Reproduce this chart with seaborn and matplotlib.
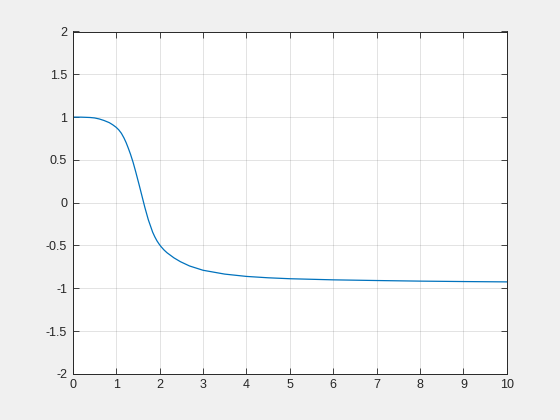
import numpy as np
import pandas as pd
import seaborn as sns
import matplotlib
matplotlib.use('Agg')
import matplotlib.pyplot as plt

# values
x_vals = [0.0, 0.2, 0.4, 0.5, 0.61, 0.72, 0.84, 0.92, 1.0, 1.06, 1.12, 1.18,
          1.23, 1.28, 1.33, 1.39, 1.45, 1.53, 1.60, 1.66, 1.74, 1.84, 1.89,
          1.94, 1.99, 2.03, 2.10, 2.17, 2.33, 2.48, 2.69, 3.0, 3.5, 4.0, 4.5,
          5.0, 6.0, 7.0, 8.0, 9.0, 10.0]
y_vals = [1.0, 0.999, 0.995, 0.99, 0.978, 0.96, 0.935, 0.91, 0.88, 0.85,
          0.81, 0.755, 0.70, 0.635, 0.565, 0.47, 0.36, 0.205, 0.065, -0.055,
          -0.20, -0.345, -0.40, -0.447, -0.485, -0.512, -0.552, -0.585, -0.645,
          -0.69, -0.74, -0.79, -0.835, -0.862, -0.878, -0.889, -0.902, -0.91,
          -0.917, -0.922, -0.926]

x_ticks = [0, 1, 2, 3, 4, 5, 6, 7, 8, 9, 10]
y_ticks = [-2, -1.5, -1, -0.5, 0, 0.5, 1, 1.5, 2]
y_labels = ['-2', '-1.5', '-1', '-0.5', '0', '0.5', '1', '1.5', '2']

sns.set_style('ticks')
plt.rcParams['font.family'] = ['Liberation Sans', 'DejaVu Sans']
plt.rcParams['axes.unicode_minus'] = False

df = pd.DataFrame({'x': x_vals, 'y': y_vals})

fig = plt.figure(figsize=(5.6, 4.2), dpi=100, facecolor='#f0f0f0')
ax = fig.add_axes([0.13, 0.11, 0.775, 0.815])
ax.set_facecolor('white')

sns.lineplot(data=df, x='x', y='y', ax=ax, color='#0072BD', linewidth=0.9)

ax.set_xlim(0, 10)
ax.set_ylim(-2, 2)
ax.set_xticks(x_ticks)
ax.set_xticklabels([str(t) for t in x_ticks])
ax.set_yticks(y_ticks)
ax.set_yticklabels(y_labels)
ax.set_xlabel('')
ax.set_ylabel('')
ax.grid(True, color='#262626', alpha=0.15, linewidth=0.6)
ax.set_axisbelow(True)
ax.tick_params(direction='in', length=4, width=0.6, colors='#262626',
               labelsize=9, top=True, right=True, pad=4)
for s in ax.spines.values():
    s.set_color('#262626')
    s.set_linewidth(0.7)
    s.set_visible(True)

fig.savefig('out.png', dpi=100, facecolor=fig.get_facecolor())
